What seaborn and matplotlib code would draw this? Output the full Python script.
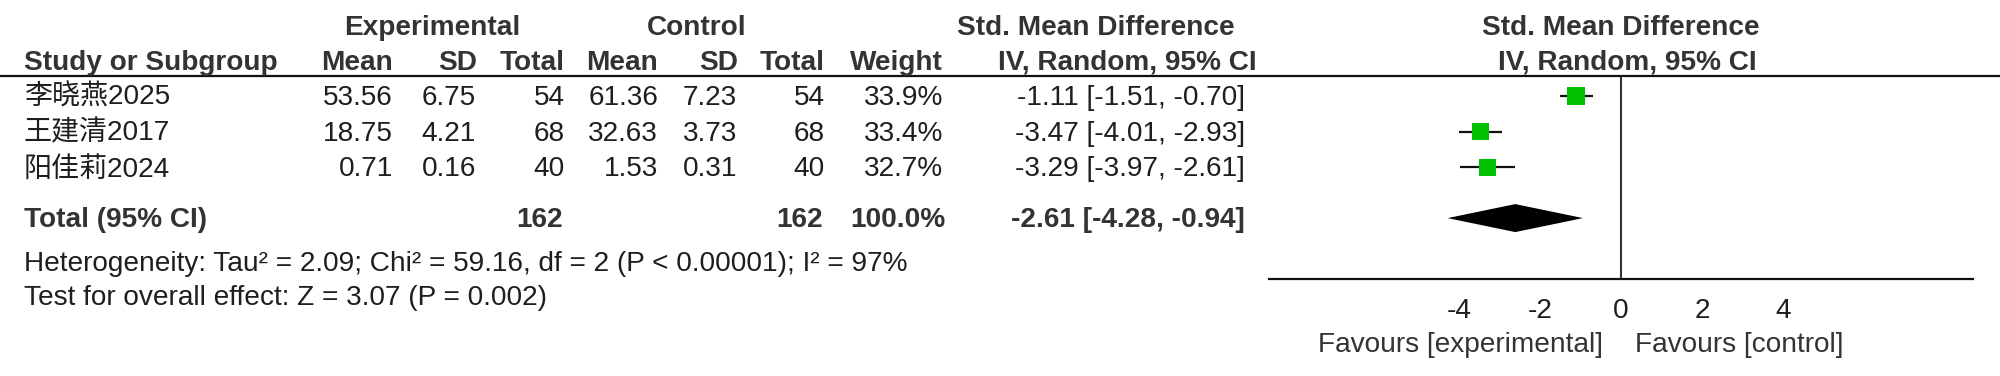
"""
Forest plot: Std. mean difference, experimental vs control (IV, random effects)

Table of study data on the left, squares + CI lines and a pooled diamond on
the right, heterogeneity and overall effect below.
"""

# imports
import pandas as pd
import matplotlib.pyplot as plt
import matplotlib.transforms as mtransforms
import seaborn as sns

# data
STUDIES = ['李晓燕2025', '王建清2017', '阳佳莉2024']
EXP_MEAN = [53.56, 18.75, 0.71]
EXP_SD = [6.75, 4.21, 0.16]
EXP_N = [54, 68, 40]
CTRL_MEAN = [61.36, 32.63, 1.53]
CTRL_SD = [7.23, 3.73, 0.31]
CTRL_N = [54, 68, 40]
WEIGHT = [33.9, 33.4, 32.7]
SMD = [-1.11, -3.47, -3.29]
CI_LOW = [-1.51, -4.01, -3.97]
CI_HIGH = [-0.70, -2.93, -2.61]

TOTAL_SMD = -2.61
TOTAL_LOW = -4.28
TOTAL_HIGH = -0.94
HETEROGENEITY = 'Heterogeneity: Tau² = 2.09; Chi² = 59.16, df = 2 (P < 0.00001); I² = 97%'
OVERALL = 'Test for overall effect: Z = 3.07 (P = 0.002)'
X_TICKS = [-4, -2, 0, 2, 4]

# settings (layout in pixels of the 2000 x 376 output)
W, H = 2000, 376
FS = 20.2
FONTS = ['Liberation Sans', 'Noto Sans CJK SC', 'DejaVu Sans']
TXT = '#1e1e1e'
HDR = '#333333'
GREEN = '#00c000'
ROW0, ROW_STEP = 96, 35.7        # marker centre of first study, row spacing
TOTAL_ROW = 3.42                 # pooled row (in row units)
DROP = 9                         # text baseline below marker centre
RULE_Y, AXIS_Y = 76, 279
PLOT_X0, PLOT_X1, XMAX = 1269, 1973, 8.69


def fx(px):
    return px / W


def fy(px):
    return 1 - px / H


def row_px(row):
    return ROW0 + ROW_STEP * row


def put(fig, x, y, s, ha='left', bold=False, color=TXT):
    fig.text(fx(x), fy(y), s, ha=ha, va='baseline', fontsize=FS,
             fontweight='bold' if bold else 'normal', family=FONTS, color=color)


def main():
    sns.set_style('white')
    plt.rcParams['font.family'] = FONTS

    df = pd.DataFrame({'study': STUDIES, 'smd': SMD, 'low': CI_LOW,
                       'high': CI_HIGH, 'weight': WEIGHT})
    df['row'] = range(len(df))

    fig = plt.figure(figsize=[W / 100, H / 100], dpi=100)

    # TABLE ####################################################################
    # group headers
    put(fig, 432, 35, 'Experimental', ha='center', bold=True, color=HDR)
    put(fig, 697, 35, 'Control', ha='center', bold=True, color=HDR)
    put(fig, 1096, 35, 'Std. Mean Difference', ha='center', bold=True, color=HDR)
    put(fig, 1621, 35, 'Std. Mean Difference', ha='center', bold=True, color=HDR)

    # column headers
    cols = [('Mean', 393), ('SD', 477), ('Total', 565), ('Mean', 658),
            ('SD', 738), ('Total', 825), ('Weight', 943)]
    put(fig, 24, 70, 'Study or Subgroup', bold=True, color=HDR)
    for label, x in cols:
        put(fig, x, 70, label, ha='right', bold=True, color=HDR)
    put(fig, 1127, 70, 'IV, Random, 95% CI', ha='center', bold=True, color=HDR)
    put(fig, 1627, 70, 'IV, Random, 95% CI', ha='center', bold=True, color=HDR)

    # rule under headers
    fig.add_artist(plt.Line2D([0, 1], [fy(RULE_Y)] * 2, color='#111111',
                              lw=1.6, transform=fig.transFigure))

    # study rows
    for ii in range(len(STUDIES)):
        y = row_px(ii) + DROP
        put(fig, 24, y, STUDIES[ii])
        put(fig, 393, y, f'{EXP_MEAN[ii]:.2f}', ha='right')
        put(fig, 476, y, f'{EXP_SD[ii]:.2f}', ha='right')
        put(fig, 565, y, f'{EXP_N[ii]}', ha='right')
        put(fig, 658, y, f'{CTRL_MEAN[ii]:.2f}', ha='right')
        put(fig, 737, y, f'{CTRL_SD[ii]:.2f}', ha='right')
        put(fig, 825, y, f'{CTRL_N[ii]}', ha='right')
        put(fig, 943, y, f'{WEIGHT[ii]:.1f}%', ha='right')
        put(fig, 1245, y, f'{SMD[ii]:.2f} [{CI_LOW[ii]:.2f}, {CI_HIGH[ii]:.2f}]',
            ha='right')

    # total row
    y = row_px(TOTAL_ROW) + DROP
    put(fig, 24, y, 'Total (95% CI)', bold=True, color=HDR)
    put(fig, 563, y, f'{sum(EXP_N)}', ha='right', bold=True, color=HDR)
    put(fig, 823, y, f'{sum(CTRL_N)}', ha='right', bold=True, color=HDR)
    put(fig, 945, y, f'{sum(WEIGHT):.1f}%', ha='right', bold=True, color=HDR)
    put(fig, 1245, y, f'{TOTAL_SMD:.2f} [{TOTAL_LOW:.2f}, {TOTAL_HIGH:.2f}]',
        ha='right', bold=True, color=HDR)

    # footnotes
    put(fig, 24, 271, HETEROGENEITY)
    put(fig, 24, 305, OVERALL)

    # FOREST ###################################################################
    ax = fig.add_axes([fx(PLOT_X0), fy(AXIS_Y), fx(PLOT_X1) - fx(PLOT_X0),
                       (AXIS_Y - RULE_Y) / H])
    ax.patch.set_visible(False)

    # null line
    ax.axvline(0, color='#333333', lw=1.5, zorder=1)

    # confidence intervals + weighted squares
    ax.hlines(df['row'], df['low'], df['high'], color='#111111', lw=1.6, zorder=2)
    side_pt = 17.5 * 0.72 * df['weight'] / max(WEIGHT)
    sns.scatterplot(data=df, x='smd', y='row', marker='s', color=GREEN,
                    s=side_pt ** 2, linewidth=0, legend=False, ax=ax, zorder=3)

    # pooled diamond
    half = 14 / ROW_STEP
    ax.fill([TOTAL_LOW, TOTAL_SMD, TOTAL_HIGH, TOTAL_SMD],
            [TOTAL_ROW, TOTAL_ROW - half, TOTAL_ROW, TOTAL_ROW + half],
            color='black', lw=0, zorder=3)

    # scales
    ax.set_xlim(-XMAX, XMAX)
    ax.set_ylim((AXIS_Y - ROW0) / ROW_STEP, (RULE_Y - ROW0) / ROW_STEP)
    ax.set_xticks(X_TICKS)
    ax.set_xticklabels([str(t) for t in X_TICKS])
    ax.set_yticks([])
    ax.set(xlabel='', ylabel='')
    ax.tick_params(axis='x', direction='inout', length=13, width=1.5,
                   color='#111111', labelsize=FS, labelcolor=TXT, pad=7)
    for side in ['top', 'left', 'right']:
        ax.spines[side].set_visible(False)
    ax.spines['bottom'].set_linewidth(1.6)
    ax.spines['bottom'].set_color('#111111')

    # favours labels
    trans = mtransforms.blended_transform_factory(ax.transData, fig.transFigure)
    ax.text(-0.45, fy(352), 'Favours [experimental]', ha='right', va='baseline',
            fontsize=FS, color='#333333', family=FONTS, transform=trans)
    ax.text(0.35, fy(352), 'Favours [control]', ha='left', va='baseline',
            fontsize=FS, color='#333333', family=FONTS, transform=trans)

    # save figure
    fig.savefig('out.png', dpi=100, facecolor='white')


if __name__ == '__main__':
    main()
